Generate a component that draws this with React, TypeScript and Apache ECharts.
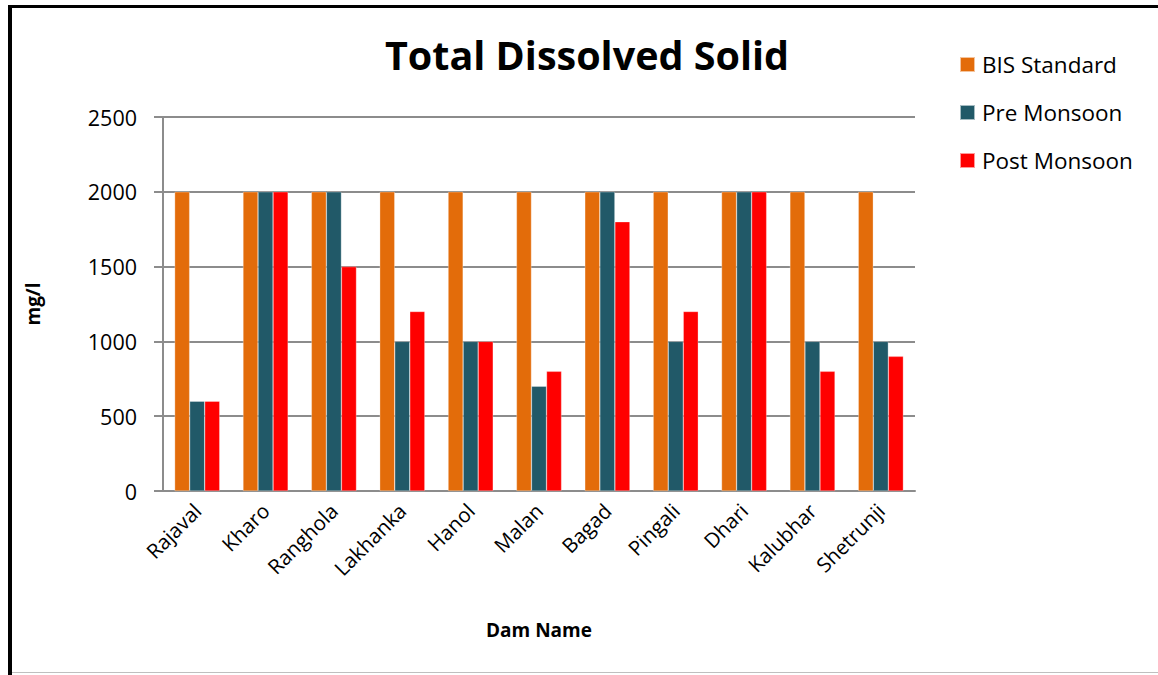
import React, { useEffect, useRef } from "react";
import * as echarts from "echarts";

const categories = ["Rajaval", "Kharo", "Ranghola", "Lakhanka", "Hanol", "Malan", "Bagad", "Pingali", "Dhari", "Kalubhar", "Shetrunji"];
const bisStandard = [2000, 2000, 2000, 2000, 2000, 2000, 2000, 2000, 2000, 2000, 2000];
const preMonsoon = [600, 2000, 2000, 1000, 1000, 700, 2000, 1000, 2000, 1000, 1000];
const postMonsoon = [600, 2000, 1500, 1200, 1000, 800, 1800, 1200, 2000, 800, 900];
const seriesNames = ["BIS Standard", "Pre Monsoon", "Post Monsoon"];
const colors = ["#E36C0A", "#215968", "#FF0000"];

const FONT = "'Open Sans', 'Noto Sans', sans-serif";

export default function App() {
  const ref = useRef<HTMLDivElement>(null);
  useEffect(() => {
    if (!ref.current) return;
    const chart = echarts.init(ref.current, null, { renderer: "svg" });
    const mk = (i: number, data: number[]) => ({
      name: seriesNames[i],
      type: "bar",
      data,
      barGap: "0%",
      barCategoryGap: "34%",
      itemStyle: { color: colors[i], borderColor: "rgba(255,255,255,0.6)", borderWidth: 0.5 },
    });
    chart.setOption({
      animation: false,
      backgroundColor: "#ffffff",
      textStyle: { fontFamily: FONT },
      title: {
        text: "Total Dissolved Solid",
        left: 582,
        top: 30,
        textAlign: "center",
        textStyle: { fontFamily: FONT, fontWeight: "bold", fontSize: 39.5, color: "#000" },
      },
      legend: {
        orient: "vertical",
        left: 954,
        top: 48,
        itemWidth: 15,
        itemHeight: 15,
        itemGap: 25,
        icon: "rect",
        textStyle: { fontFamily: FONT, fontSize: 22.5, color: "#000", padding: [0, 0, 0, 2] },
        data: seriesNames,
      },
      grid: { left: 163, right: 243, top: 117, bottom: 184, containLabel: false },
      xAxis: {
        type: "category",
        data: categories,
        name: "Dam Name",
        nameLocation: "middle",
        nameGap: 129,
        nameTextStyle: { fontFamily: FONT, fontWeight: "bold", fontSize: 19, color: "#000" },
        axisLine: { show: true, lineStyle: { color: "#8c8c8c", width: 2 } },
        axisTick: { show: false },
        axisLabel: { rotate: 45, fontFamily: FONT, fontSize: 20.5, color: "#000", margin: 16, interval: 0 },
      },
      yAxis: {
        type: "value",
        min: 0,
        max: 2500,
        interval: 500,
        name: "mg/l",
        nameLocation: "middle",
        nameGap: 121,
        nameRotate: 90,
        nameTextStyle: { fontFamily: FONT, fontWeight: "bold", fontSize: 19, color: "#000" },
        axisLine: { show: true, lineStyle: { color: "#8c8c8c", width: 2 } },
        axisTick: { show: true, length: 9, lineStyle: { color: "#8c8c8c", width: 2 } },
        axisLabel: { fontFamily: FONT, fontSize: 21.5, color: "#000", margin: 26, formatter: (v: number) => String(v) },
        splitLine: { show: true, lineStyle: { color: "#8c8c8c", width: 2 } },
      },
      graphic: [
        { type: "rect", left: 8, top: 5, shape: { width: 4, height: 670 }, style: { fill: "#000" }, silent: true },
        { type: "rect", left: 8, top: 5, shape: { width: 1150, height: 3 }, style: { fill: "#000" }, silent: true },
        { type: "rect", left: 12, top: 672, shape: { width: 1146, height: 1 }, style: { fill: "#bfbfbf" }, silent: true },
      ],
      series: [mk(0, bisStandard), mk(1, preMonsoon), mk(2, postMonsoon)],
    });
    return () => chart.dispose();
  }, []);
  return (
    <div
      ref={ref}
      style={{ position: "fixed", left: 0, top: 0, width: 1158, height: 675, background: "#fff" }}
    />
  );
}
